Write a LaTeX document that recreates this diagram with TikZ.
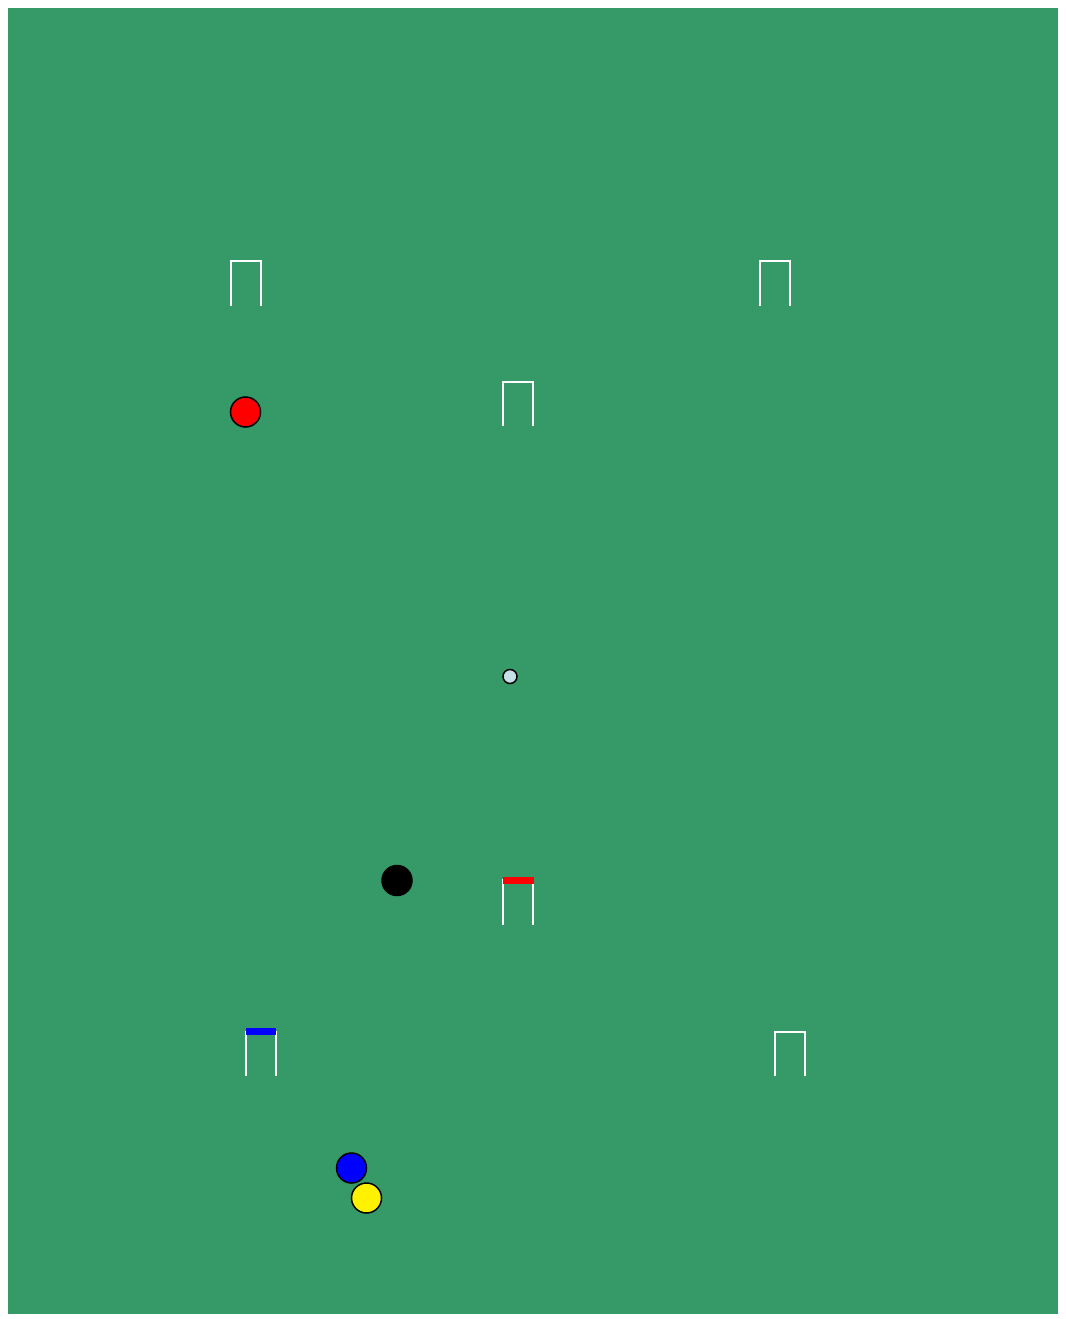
\documentclass[tikz,border=0pt]{standalone}
\definecolor{lawn}{RGB}{53,154,104}
\definecolor{pegblue}{RGB}{198,224,232}
\begin{document}
\begin{tikzpicture}[x=1pt,y=-1pt,
  hoop/.style={draw=white,line width=2pt},
  ball/.style={draw=black,line width=1.5pt},
  clip/.style={line width=7.5pt}]
\fill[white] (0,0) rectangle (1065,1319);
\useasboundingbox (0,0) rectangle (1065,1319);
\fill[lawn] (8,8) rectangle (1058,1314);
% hoops
\draw[hoop] (230.5,306) -- (230.5,261) -- (260.5,261) -- (260.5,306);
\draw[hoop] (760,306) -- (760,261) -- (790,261) -- (790,306);
\draw[hoop] (503,426) -- (503,381.5) -- (533,381.5) -- (533,426);
\draw[hoop] (503,925) -- (503,880) -- (533,880) -- (533,925);
\draw[hoop] (246,1076) -- (246,1031.5) -- (276,1031.5) -- (276,1076);
\draw[hoop] (775,1076) -- (775,1031.5) -- (805,1031.5) -- (805,1076);
% clips
\draw[red,clip] (503,880.3) -- (533.5,880.3);
\draw[blue,clip] (245.5,1031.7) -- (276,1031.7);
% peg
\filldraw[ball,fill=pegblue] (510,676.5) circle (7);
% balls
\filldraw[ball,fill=red] (245.5,412) circle (15);
\filldraw[ball,fill=black] (397,880.5) circle (15);
\filldraw[ball,fill=blue] (351.5,1168) circle (15);
\filldraw[ball,fill=yellow] (366.5,1198) circle (15);
\end{tikzpicture}
\end{document}
